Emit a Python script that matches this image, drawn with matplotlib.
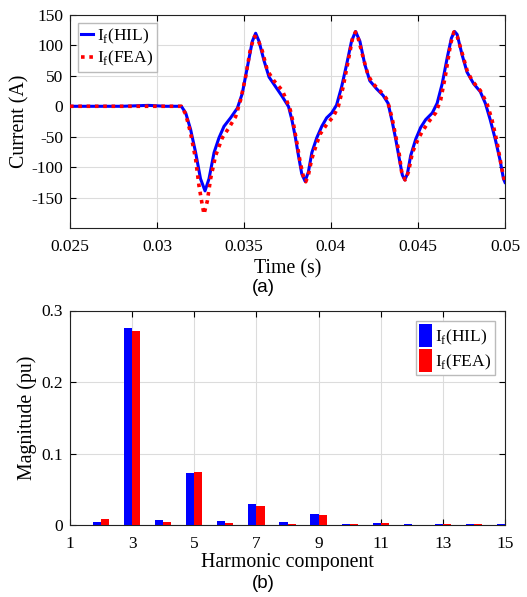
import numpy as np
import matplotlib.pyplot as plt
from matplotlib.patches import Rectangle

plt.rcParams['font.family'] = ['Liberation Serif', 'DejaVu Serif']
plt.rcParams['mathtext.fontset'] = 'custom'
plt.rcParams['mathtext.rm'] = 'Liberation Serif'
plt.rcParams['axes.unicode_minus'] = False

# (a) field current
t_hil = [0.025, 0.028, 0.0295, 0.0305, 0.0314, 0.03165, 0.03193, 0.03222, 0.0325, 0.03276,
         0.03299, 0.03328, 0.03356, 0.03385, 0.03423, 0.03462, 0.0349, 0.03519, 0.03548,
         0.03567, 0.03586, 0.03615, 0.03644, 0.03682, 0.0372, 0.03756, 0.03775, 0.03794,
         0.03813, 0.03832, 0.03851, 0.0387, 0.0389, 0.03918, 0.03947, 0.03975, 0.04004,
         0.04032, 0.04061, 0.0409, 0.04118, 0.04141, 0.04166, 0.04194, 0.04223, 0.04261,
         0.04299, 0.04328, 0.04353, 0.04372, 0.04391, 0.0441, 0.04424, 0.04439, 0.04458,
         0.04487, 0.04515, 0.04544, 0.04582, 0.0461, 0.04639, 0.04668, 0.04692, 0.0471,
         0.04725, 0.04753, 0.04782, 0.0482, 0.04858, 0.04887, 0.04915, 0.04944, 0.04972,
         0.04991, 0.05]
i_hil = [0, 0, 1.5, 0, 0, -11, -38, -76, -119, -139,
         -119, -76, -52, -33, -19, -3, 21, 64, 107,
         120, 107, 75, 48, 32, 16, -0.5, -22, -49,
         -81, -111, -123, -108, -76, -52, -33, -19, -11,
         2, 32, 69, 107, 123, 107, 69, 42, 29,
         18, 5, -27, -54, -84, -113, -121, -111, -81,
         -54, -35, -22, -11, 5, 37, 80, 112, 123,
         118, 85, 56, 37, 24, 5, -22, -54, -89,
         -119, -125]

t_fea = [0.025, 0.028, 0.0305, 0.0314, 0.03165, 0.03193, 0.03222, 0.03241, 0.0326, 0.0327,
         0.03289, 0.03308, 0.03337, 0.03375, 0.03414, 0.03452, 0.0348, 0.03509, 0.03538,
         0.03561, 0.03577, 0.03605, 0.03634, 0.03672, 0.0372, 0.03747, 0.03766, 0.03785,
         0.03804, 0.03823, 0.03842, 0.03855, 0.0387, 0.03889, 0.03908, 0.03937, 0.03975,
         0.04013, 0.04042, 0.0407, 0.04099, 0.04124, 0.04141, 0.04156, 0.04185, 0.04213,
         0.04242, 0.0428, 0.04318, 0.04334, 0.04353, 0.04372, 0.04391, 0.04406, 0.04426,
         0.04445, 0.04468, 0.04496, 0.04525, 0.04563, 0.04601, 0.0463, 0.04658, 0.04687,
         0.04706, 0.04725, 0.04753, 0.04782, 0.04811, 0.04858, 0.04896, 0.04925, 0.04953,
         0.04982, 0.05]
i_fea = [0, 0, 0, 0, -13, -44, -87, -130, -162, -177,
         -156, -119, -81, -52, -35, -17, 10, 48, 96,
         115, 112, 91, 59, 42, 26, 8, -6, -30,
         -60, -92, -116, -124, -113, -87, -70, -46, -30,
         -17, -0.5, 32, 75, 112, 122, 112, 80, 51,
         37, 26, 13, -0.5, -22, -49, -76, -108, -121,
         -108, -76, -57, -41, -25, -11, 10, 51, 102,
         122, 115, 88, 59, 42, 26, 5, -22, -57,
         -103, -125]

# (b) harmonic spectrum
harmonics = [2, 3, 4, 5, 6, 7, 8, 9, 10, 11, 12, 13, 14, 15]
mag_hil = [0.0047, 0.275, 0.0075, 0.0733, 0.006, 0.0299, 0.0047, 0.0159, 0.0014, 0.0028,
           0.0014, 0.0014, 0.0019, 0.001]
mag_fea = [0.0084, 0.272, 0.0047, 0.0747, 0.0028, 0.027, 0.0014, 0.014, 0.0014, 0.0033,
           0.0005, 0.001, 0.0014, 0.0005]

fig = plt.figure(figsize=(5.27, 5.97), dpi=100)
W, H = 527.0, 597.0
ax1 = fig.add_axes([70 / W, 1 - 228 / H, 435 / W, 213 / H])
ax2 = fig.add_axes([70 / W, 1 - 525 / H, 435 / W, 214.5 / H])

ax1.plot(t_hil, i_hil, color='#0000ff', lw=2.2, label=r'I$_\mathrm{f}$(HIL)', zorder=3)
ax1.plot(t_fea, i_fea, color='#ff0000', lw=2.6, ls=(0, (1, 1.3)), label=r'I$_\mathrm{f}$(FEA)', zorder=4)
ax1.set_xlim(0.025, 0.05)
ax1.set_ylim(-200, 150)
ax1.set_xticks([0.025, 0.03, 0.035, 0.04, 0.045, 0.05])
ax1.set_xticklabels(['0.025', '0.03', '0.035', '0.04', '0.045', '0.05'])
ax1.set_yticks([-150, -100, -50, 0, 50, 100, 150])
ax1.set_xlabel('Time (s)', fontsize=14.3, labelpad=3)
ax1.set_ylabel('Current (A)', fontsize=14.3, labelpad=1)
ax1.legend(loc='upper left', fontsize=12.5, handlelength=0.7, handletextpad=0.2,
           borderpad=0.2, labelspacing=0.2, borderaxespad=0.45, fancybox=False,
           framealpha=1, edgecolor='#bbbbbb')

w = 0.26
x = np.array(harmonics)
ax2.bar(x - w / 2, mag_hil, width=w, color='#0000ff', label=r'I$_\mathrm{f}$(HIL)', zorder=3)
ax2.bar(x + w / 2, mag_fea, width=w, color='#ff0000', label=r'I$_\mathrm{f}$(FEA)', zorder=3)
ax2.set_xlim(1, 15)
ax2.set_ylim(0, 0.3)
ax2.set_xticks([1, 3, 5, 7, 9, 11, 13, 15])
ax2.set_yticks([0, 0.1, 0.2, 0.3])
ax2.set_yticklabels(['0', '0.1', '0.2', '0.3'])
ax2.set_xlabel('Harmonic component', fontsize=14.3, labelpad=1)
ax2.set_ylabel('Magnitude (pu)', fontsize=14.3, labelpad=3)
ax2.legend(loc='upper right', fontsize=12.5, handlelength=0.7, handleheight=1.6,
           handletextpad=0.2, borderpad=0.2, labelspacing=0.15, borderaxespad=0.6,
           fancybox=False, framealpha=1, edgecolor='#bbbbbb')

for ax in (ax1, ax2):
    ax.grid(True, color='#dcdcdc', lw=0.8)
    ax.set_axisbelow(True)
    ax.tick_params(direction='in', top=True, right=True, labelsize=12.5, length=4, width=0.8, pad=5)
    ax.tick_params(axis='x', pad=8)
    for s in ax.spines.values():
        s.set_linewidth(0.8)
        s.set_color('#222222')

# clipped bottom of the harmonic label, as in the original figure
fig.patches.append(Rectangle((0, 1 - 574 / H), 1, 3.5 / H, transform=fig.transFigure,
                             color='white', zorder=10))
fig.text(0.5, 1 - 287 / H, '(a)', ha='center', va='center', fontsize=13.5, family='Liberation Sans')
fig.text(0.5, 1 - 583 / H, '(b)', ha='center', va='center', fontsize=13.5, family='Liberation Sans',
         zorder=11)

fig.savefig('out.png', dpi=100)
